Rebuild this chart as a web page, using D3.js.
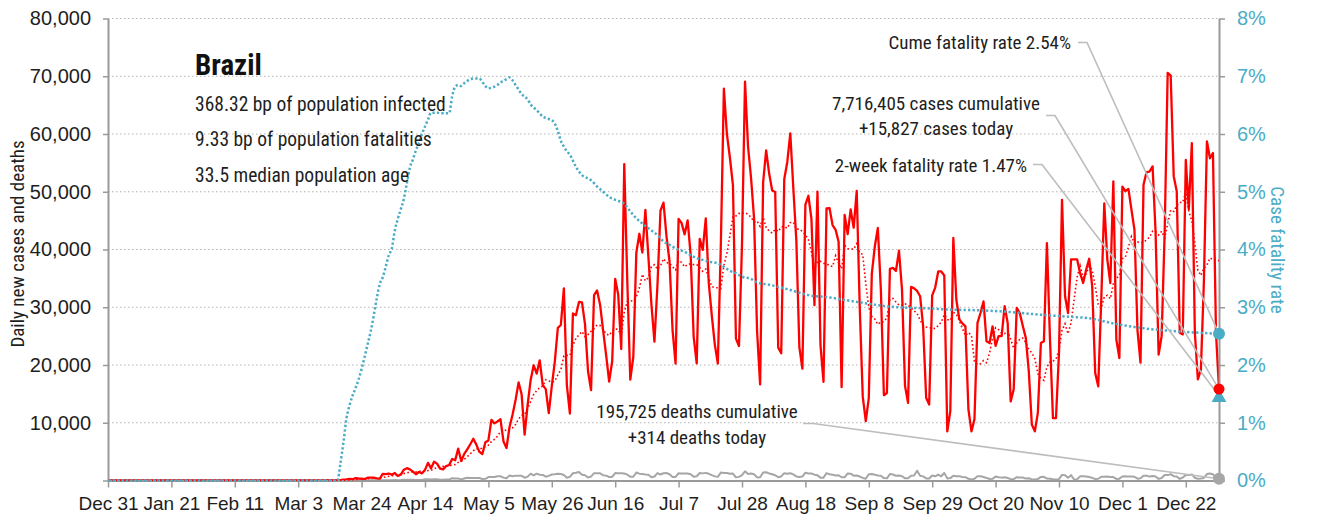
<!DOCTYPE html>
<html>
<head>
<meta charset="utf-8">
<script src="https://cdn.jsdelivr.net/npm/d3@7"></script>
<style>
  body { margin: 0; background: #fff; }
  svg { display: block; font-family: "Roboto Condensed", Roboto, sans-serif; font-stretch: condensed; }
</style>
</head>
<body>
<svg id="chart" width="1319" height="520"></svg>
<script>
// ---- Brazil, daily series from 2019-12-31 to 2021-01-02 ----
const seriesStart = "2019-12-31";

const dailyCases = [
  // Dec 31
  0,
  // Jan
  0,0,0,0,0,0,0,0,0,0,0,0,0,0,0,0,0,0,0,0,0,0,0,0,0,0,0,0,0,0,0,
  // Feb
  0,0,0,0,0,0,0,0,0,0,0,0,0,0,0,0,0,0,0,0,0,0,0,0,0,1,0,0,1,
  // Mar
  0,0,0,1,4,6,6,6,5,6,16,25,76,23,79,34,57,137,193,283,224,418,345,310,232,482,502,487,352,323,1138,
  // Apr
  1119,1208,1012,1304,770,1031,1873,2136,1922,1546,1089,1465,1238,1832,3058,2105,3257,2917,2055,1927,
  2498,2678,3735,3503,5514,3379,4613,5385,6276,7218,
  // May
  6209,4970,4588,6633,6935,10503,9888,10222,10611,6760,5632,9258,11385,13944,17000,14919,7938,13140,17408,19951,
  18508,20803,16508,15813,11687,16324,20599,26417,26928,33274,16409,
  // Jun
  11598,28936,28633,30925,30830,27075,18912,15654,32091,32913,30412,25982,21704,17110,20647,34918,32188,22765,54771,34666,
  17459,21432,39436,42725,39483,46860,38693,30476,24052,33846,
  // Jul
  46712,48105,42223,37923,26051,20229,45305,44571,42619,45048,39023,24831,20286,41857,39924,45403,34177,28532,23529,20257,
  41008,67860,59961,55891,51147,24578,23284,40816,69074,57837,52383,
  // Aug
  45392,25800,16641,51603,57152,53139,50230,49970,23010,22048,52160,55155,60091,50644,41576,23101,19373,47784,49298,45323,
  30355,50032,23421,17078,47134,47161,44235,43412,41350,16158,46000,
  // Sep
  42659,46934,43773,50163,30000,14521,10273,14279,35816,40557,43718,33000,14768,15155,36653,36820,36303,39797,33057,16389,
  13439,33536,33281,32817,31911,26700,14318,13155,32058,33413,
  // Oct
  36200,36200,35500,8500,12000,42000,31300,27900,27200,26700,12300,8500,10600,27300,29000,31000,24100,23800,26700,23300,
  25000,25000,30200,27300,13700,15800,29900,29000,26800,24700,18900,
  // Nov
  9700,8500,11700,23800,24100,41100,24700,10800,10800,22100,48600,31900,29000,38300,38300,38300,35900,34200,36500,38400,
  33600,18600,16300,31300,48000,38300,34200,51800,24400,21200,
  // Dec
  50900,50100,50500,46900,43400,26000,20400,51200,53400,53500,54400,42900,21800,25000,42900,70600,70100,52700,50100,25600,
  25300,55500,47000,58400,25600,17500,19200,34500,58700,55800,56700,
  // Jan 1-2
  25600,15827
];

const dailyDeaths = [
  // Dec 31
  0,
  // Jan
  0,0,0,0,0,0,0,0,0,0,0,0,0,0,0,0,0,0,0,0,0,0,0,0,0,0,0,0,0,0,0,
  // Feb
  0,0,0,0,0,0,0,0,0,0,0,0,0,0,0,0,0,0,0,0,0,0,0,0,0,0,0,0,0,
  // Mar
  0,0,0,0,0,0,0,0,0,0,0,0,0,0,0,0,1,2,3,5,7,7,9,12,11,20,22,23,22,22,42,
  // Apr
  42,58,60,73,54,67,114,133,141,115,68,99,105,204,204,188,217,206,115,113,166,165,407,357,346,189,338,474,449,435,
  // May
  428,421,275,296,600,615,610,751,730,496,396,881,749,844,824,816,485,674,1179,888,1188,1001,965,653,807,1039,1086,1156,1124,956,480,
  // Jun
  623,1262,1349,1473,1005,904,525,679,1272,1274,1239,909,843,612,627,1282,1269,1238,1206,1022,641,654,1374,1185,1141,1055,990,552,692,1280,
  // Jul
  1038,1252,1290,1091,602,620,1254,1223,1220,1214,1071,631,733,1300,1233,1322,1163,921,716,632,1367,1284,1311,1156,1211,555,627,921,1595,1129,1212,
  // Aug
  1088,541,561,1394,1437,1226,1079,905,572,703,1274,1175,1261,1060,709,620,684,1352,1212,1204,1007,892,494,494,1271,1085,984,855,908,566,553,
  // Sep
  1215,1184,834,874,682,447,310,1075,1136,983,874,814,415,381,1113,1041,829,858,739,377,377,809,869,1700,831,718,363,335,863,729,
  // Oct
  1031,728,1300,366,413,819,734,729,603,582,301,196,309,754,746,595,446,254,287,695,571,497,566,432,230,251,575,510,513,330,391,
  // Nov
  190,157,243,625,628,344,296,207,154,229,973,910,464,921,172,216,716,754,680,614,457,263,302,630,654,691,620,587,272,317,
  // Dec
  697,755,672,694,654,313,376,842,837,674,770,686,279,433,964,936,1092,754,706,279,522,963,968,1054,480,290,330,431,1111,1224,1074,
  // Jan 1-2
  462,314
];

// Cumulative case fatality rate (%), daily through the spring peak
const cfrDailyStart = "2020-03-17";
const cfrDaily = [
  // Mar 17-31
  0.30,0.67,1.08,1.30,1.47,1.60,1.75,1.93,2.14,2.36,2.58,2.85,3.15,3.40,3.52,
  // Apr
  3.70,3.90,4.02,4.33,4.53,4.70,4.88,5.15,5.42,5.56,5.72,5.85,6.00,6.13,6.25,6.37,6.37,6.37,6.36,6.36,
  6.36,6.36,6.65,6.82,6.85,6.83,6.88,6.92,6.95,6.96,
  // May
  6.96,6.96,6.90,6.83,6.79,6.80,6.82,6.85,6.89,6.92,6.95,6.98,6.93,6.85,6.77,6.69,6.65,6.60,6.51,6.46,
  6.41,6.36,6.30,6.28,6.26,6.24,6.18,6.05,5.88,5.78,5.70,
  // Jun 1
  5.64
];
// ...and at wider steps afterwards, where it changes slowly
const cfrLaterDates = [
  "2020-06-03","2020-06-05","2020-06-08","2020-06-10","2020-06-12","2020-06-14","2020-06-16","2020-06-19",
  "2020-06-21","2020-06-23","2020-06-25","2020-06-28","2020-06-30","2020-07-02","2020-07-04","2020-07-06",
  "2020-07-09","2020-07-11","2020-07-13","2020-07-15","2020-07-17","2020-07-20","2020-07-22","2020-07-24",
  "2020-07-26","2020-07-28","2020-07-31","2020-08-02","2020-08-06","2020-08-13","2020-08-19","2020-08-26",
  "2020-09-02","2020-09-08","2020-09-15","2020-09-22","2020-09-28","2020-10-04","2020-10-13","2020-10-24",
  "2020-11-04","2020-11-15","2020-11-20","2020-11-28","2020-12-09","2020-12-20","2021-01-02"
];
const cfrLaterValues = [
  5.43,5.29,5.20,5.09,5.00,4.91,4.86,4.79,
  4.66,4.54,4.45,4.33,4.25,4.14,4.08,4.02,
  3.96,3.90,3.85,3.82,3.79,3.76,3.70,3.63,
  3.59,3.53,3.49,3.43,3.39,3.30,3.21,3.17,
  3.11,3.06,3.01,2.99,2.98,2.96,2.95,2.92,
  2.87,2.83,2.81,2.72,2.63,2.58,2.54
];

const twoWeekFatalityRate = 1.47;
const cumulativeCases = 7716405;
const cumulativeDeaths = 195725;

const xTickDates = [
  "2019-12-31","2020-01-21","2020-02-11","2020-03-03","2020-03-24","2020-04-14","2020-05-05","2020-05-26","2020-06-16",
  "2020-07-07","2020-07-28","2020-08-18","2020-09-08","2020-09-29","2020-10-20","2020-11-10","2020-12-01","2020-12-22"
];
const yTicks = [0, 10000, 20000, 30000, 40000, 50000, 60000, 70000, 80000];
const yRightTicks = [0, 1, 2, 3, 4, 5, 6, 7, 8];

const statLines = [
  "368.32 bp of population infected",
  "9.33 bp of population fatalities",
  "33.5 median population age"
];

(function draw() {
  // ---- scales ----
  const parse = d3.timeParse("%Y-%m-%d");
  const start = parse(seriesStart);
  const days = dailyCases.map((_, k) => d3.timeDay.offset(start, k));
  const last = days.length - 1;

  const plotLeft = 108, plotRight = 1219, plotTop = 18.5, plotBottom = 480.5;
  const x = d3.scaleTime().domain([days[0], days[last]]).range([plotLeft, plotRight]);
  const y = d3.scaleLinear().domain([0, 80000]).range([plotBottom, plotTop]);
  const yR = d3.scaleLinear().domain([0, 8]).range([plotBottom, plotTop]);

  const RED = "#ff0000", BLUE = "#4bacc6", GREY = "#a6a6a6", INK = "#1e1e1e";

  const svg = d3.select("#chart");

  // gridlines
  svg.append("g").selectAll("line")
    .data(yTicks.filter(v => v > 0))
    .join("line")
    .attr("x1", plotLeft).attr("x2", plotRight)
    .attr("y1", d => y(d)).attr("y2", d => y(d))
    .attr("stroke", "#b4b4b4").attr("stroke-width", 1)
    .attr("stroke-dasharray", "1.5,2.5");

  // daily deaths (grey) and daily cases (red)
  const lineDaily = d3.line().x((d, k) => x(days[k])).y(d => y(d));
  svg.append("path").datum(dailyDeaths)
    .attr("d", lineDaily).attr("fill", "none")
    .attr("stroke", GREY).attr("stroke-width", 2).attr("stroke-linejoin", "round");
  svg.append("path").datum(dailyCases)
    .attr("d", lineDaily).attr("fill", "none")
    .attr("stroke", RED).attr("stroke-width", 2.3).attr("stroke-linejoin", "round");

  // axes
  function styleAxis(g, color, size) {
    g.selectAll(".domain").attr("stroke", "#9a9a9a").attr("stroke-width", 2);
    g.selectAll(".tick line").attr("stroke", "#9a9a9a").attr("stroke-width", 1.5);
    g.selectAll(".tick text").attr("fill", color).style("font-size", size + "px")
      .style("font-family", "inherit");
  }

  const gx = svg.append("g").attr("transform", `translate(0,${plotBottom})`)
    .call(d3.axisBottom(x).tickValues(xTickDates.map(parse)).tickSize(7).tickSizeOuter(0)
      .tickPadding(9).tickFormat(d3.timeFormat("%b %-d")));
  styleAxis(gx, INK, 19);

  const gy = svg.append("g").attr("transform", `translate(${plotLeft},0)`)
    .call(d3.axisLeft(y).tickValues(yTicks).tickSize(5).tickSizeOuter(0).tickPadding(12)
      .tickFormat(v => v === 0 ? "" : d3.format(",")(v)));
  styleAxis(gy, INK, 20);

  const gyR = svg.append("g").attr("transform", `translate(${plotRight},0)`)
    .call(d3.axisRight(yR).tickValues(yRightTicks).tickSize(6).tickSizeOuter(0).tickPadding(12)
      .tickFormat(v => v + "%"));
  styleAxis(gyR, BLUE, 20);

  // axis titles
  svg.append("text")
    .attr("transform", "translate(24,244) rotate(-90)")
    .attr("text-anchor", "middle").attr("fill", INK).style("font-size", "19px")
    .text("Daily new cases and deaths");
  svg.append("text")
    .attr("transform", "translate(1271,250) rotate(90)")
    .attr("text-anchor", "middle").attr("fill", BLUE).style("font-size", "19px")
    .text("Case fatality rate");

  // 7-day average of cases (dotted red)
  const avg7 = dailyCases.map((_, k) => d3.mean(dailyCases.slice(Math.max(0, k - 6), k + 1)));
  svg.append("path").datum(avg7)
    .attr("d", lineDaily).attr("fill", "none")
    .attr("stroke", RED).attr("stroke-width", 1.6).attr("stroke-dasharray", "1.6,2.4");

  // case fatality rate (dotted blue)
  const cfrStart = parse(cfrDailyStart);
  const cfrPoints = [
    { date: days[0], v: 0 },
    { date: d3.timeDay.offset(cfrStart, -1), v: 0 },
    ...cfrDaily.map((v, k) => ({ date: d3.timeDay.offset(cfrStart, k), v })),
    ...cfrLaterDates.map((s, k) => ({ date: parse(s), v: cfrLaterValues[k] }))
  ];
  svg.append("path").datum(cfrPoints)
    .attr("d", d3.line().x(d => x(d.date)).y(d => yR(d.v)).curve(d3.curveMonotoneX))
    .attr("fill", "none").attr("stroke", BLUE).attr("stroke-width", 2.5)
    .attr("stroke-dasharray", "2.3,2.2");

  // end-of-series values
  const xEnd = x(days[last]);
  const cfrEnd = cfrLaterValues[cfrLaterValues.length - 1];
  const casesToday = dailyCases[last];
  const deathsToday = dailyDeaths[last];

  // annotations with leader lines
  const fmt = d3.format(",");
  const LEAD = "#bdbdbd";
  const leader = (pts) => svg.append("path")
    .attr("d", d3.line()(pts)).attr("fill", "none")
    .attr("stroke", LEAD).attr("stroke-width", 1.6);

  leader([[1078, 42.5], [1087, 42.5], [xEnd, yR(cfrEnd)]]);
  leader([[1046, 115.5], [1055, 115.5], [xEnd, y(casesToday)]]);
  leader([[1033, 164.5], [1042, 164.5], [xEnd, yR(twoWeekFatalityRate)]]);
  leader([[803, 423.5], [813, 423.5], [xEnd, y(deathsToday)]]);

  const note = (tx, ty, anchor, str) => svg.append("text")
    .attr("x", tx).attr("y", ty).attr("text-anchor", anchor)
    .attr("fill", INK).style("font-size", "19px").text(str);

  note(1071, 49, "end", `Cume fatality rate ${cfrEnd.toFixed(2)}%`);
  note(936, 110, "middle", `${fmt(cumulativeCases)} cases cumulative`);
  note(936, 135, "middle", `+${fmt(casesToday)} cases today`);
  note(1027, 172, "end", `2-week fatality rate ${twoWeekFatalityRate.toFixed(2)}%`);
  note(697, 418, "middle", `${fmt(cumulativeDeaths)} deaths cumulative`);
  note(697, 444, "middle", `+${fmt(deathsToday)} deaths today`);

  // end markers
  svg.append("circle").attr("cx", xEnd).attr("cy", y(deathsToday)).attr("r", 6).attr("fill", GREY);
  svg.append("circle").attr("cx", xEnd).attr("cy", yR(cfrEnd)).attr("r", 6).attr("fill", BLUE);
  svg.append("path")
    .attr("transform", `translate(${xEnd},${yR(twoWeekFatalityRate) + 2})`)
    .attr("d", d3.symbol(d3.symbolTriangle, 95)()).attr("fill", BLUE);
  svg.append("circle").attr("cx", xEnd).attr("cy", y(casesToday)).attr("r", 5.5).attr("fill", RED);

  // header block
  svg.append("text").attr("x", 195).attr("y", 75)
    .attr("fill", "#111").style("font-size", "29px").style("font-weight", "bold")
    .text("Brazil");
  svg.append("g").selectAll("text").data(statLines).join("text")
    .attr("x", 195).attr("y", (d, k) => 111 + k * 35.3)
    .attr("fill", INK).style("font-size", "19.5px")
    .text(d => d);
})();
</script>
</body>
</html>
